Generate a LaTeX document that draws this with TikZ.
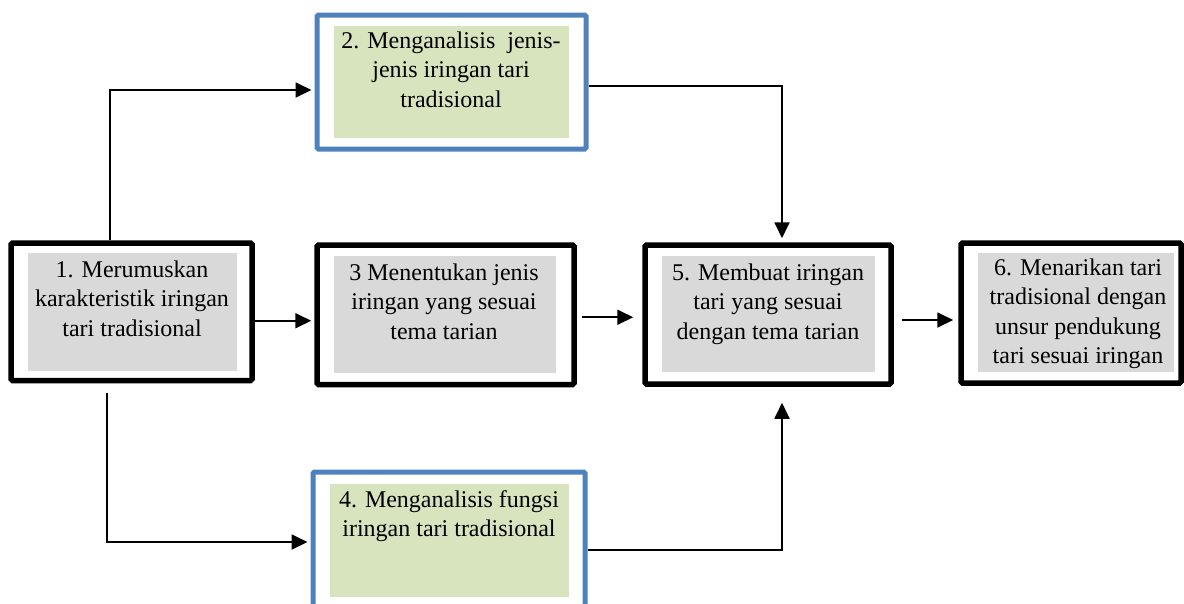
\documentclass[tikz,border=0pt]{standalone}
\usepackage{fontspec}
\setmainfont{Liberation Serif}
\usetikzlibrary{arrows.meta}
\definecolor{frameblue}{HTML}{4F81BD}
\definecolor{boxgray}{HTML}{D9D9D9}
\definecolor{boxgreen}{HTML}{D7E4BD}
\begin{document}
\begin{tikzpicture}[x=1pt,y=-1pt,
  blackframe/.style={draw=black,line width=5.5pt,rounded corners=1.5pt,rectangle,inner sep=0pt,fill=white},
  blueframe/.style={draw=frameblue,line width=5pt,rounded corners=1.5pt,rectangle,inner sep=0pt,fill=white},
  grayfill/.style={fill=boxgray,rectangle,inner sep=0pt,draw=none},
  greenfill/.style={fill=boxgreen,rectangle,inner sep=0pt,draw=none},
  label/.style={anchor=base,align=center,inner sep=0pt,font=\fontsize{24}{29.5}\selectfont},
  arr/.style={draw=black,line width=1.8pt,-{Triangle[length=16pt,width=15pt]}}
]
\useasboundingbox (0,0) rectangle (1184,603);
\clip (0,0) rectangle (1184,603);

% Box 1
\node[blackframe,minimum width=241pt,minimum height=137.5pt] (b1) at (131.5,311.75) {};
\node[grayfill,minimum width=209pt,minimum height=118pt] (g1) at (132.5,312) {};
\node[label] (t1) at (132,336) {1. Merumuskan\\karakteristik iringan\\tari tradisional};

% Box 2
\node[blueframe,minimum width=269pt,minimum height=134pt] (b2) at (451.5,82) {};
\node[greenfill,minimum width=235pt,minimum height=112pt] (g2) at (451.5,82) {};
\node[label] (t2) at (451,107) {2. Menganalisis~ jenis-\\jenis iringan tari\\tradisional};

% Box 3
\node[blackframe,minimum width=257pt,minimum height=139.5pt] (b3) at (445.5,314.75) {};
\node[grayfill,minimum width=222pt,minimum height=117pt] (g3) at (445,314.5) {};
\node[label] (t3) at (444,339) {3 Menentukan jenis\\iringan yang sesuai\\tema tarian};

% Box 4
\node[blueframe,minimum width=272pt,minimum height=168pt] (b4) at (449,556) {};
\node[greenfill,minimum width=239pt,minimum height=113pt] (g4) at (449.5,540.5) {};
\node[label] (t4) at (449,536.5) {4. Menganalisis fungsi\\iringan tari tradisional};

% Box 5
\node[blackframe,minimum width=246pt,minimum height=139pt] (b5) at (768,314.5) {};
\node[grayfill,minimum width=213pt,minimum height=116pt] (g5) at (768.5,314) {};
\node[label] (t5) at (768,339) {5. Membuat iringan\\tari yang sesuai\\dengan tema tarian};

% Box 6
\node[blackframe,minimum width=220pt,minimum height=140pt] (b6) at (1071,313) {};
\node[grayfill,minimum width=196pt,minimum height=119pt] (g6) at (1076,312.5) {};
\node[label] (t6) at (1078,363.5) {6. Menarikan tari\\tradisional dengan\\unsur pendukung\\tari sesuai iringan};

% Connectors
\draw[arr,shorten >=3pt] ([xshift=-21.5pt]b1.north) |- ([yshift=-8pt]b2.west);
\draw[arr,shorten >=3pt] ([xshift=-24.5pt,yshift=-10pt]b1.south) |- ([yshift=14pt]b4.west);
\draw[arr,shorten >=3pt] ([yshift=-9pt]b1.east) -- ([yshift=-9pt]b1.east -| b3.west);
\draw[arr,shorten <=5pt,shorten >=9pt] ([yshift=-2.5pt]b3.east) -- ([yshift=-2.5pt]b3.east -| b5.west);
\draw[arr,shorten <=8pt,shorten >=5pt] ([yshift=-5.5pt]b5.east) -- ([yshift=-5.5pt]b5.east -| b6.west);
\draw[arr,shorten >=4pt] ([yshift=-4pt]b2.east) -| ([xshift=14pt]b5.north);
\draw[arr,shorten >=16pt] ([yshift=6pt]b4.east) -| ([xshift=14pt]b5.south);
\end{tikzpicture}
\end{document}
